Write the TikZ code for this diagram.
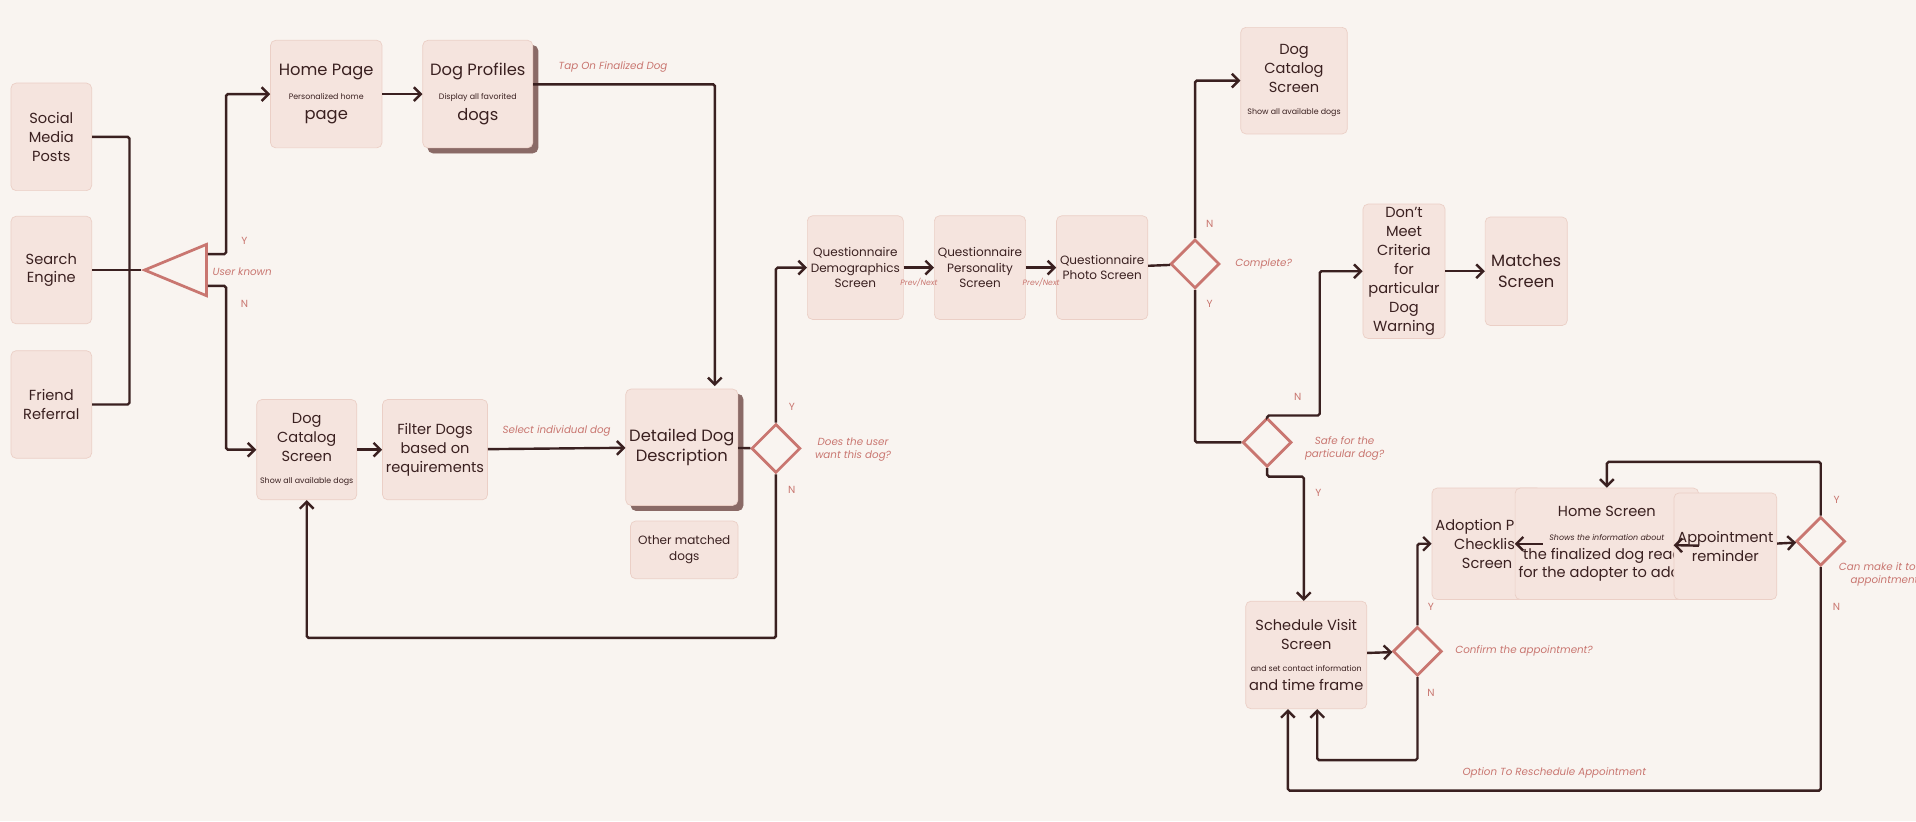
\documentclass[tikz,border=0pt]{standalone}
\usepackage{fontspec}
\setmainfont{Poppins}
\usetikzlibrary{arrows.meta,shapes.geometric,shadows,positioning}
\definecolor{paper}{HTML}{F9F4F0}
\definecolor{boxfill}{HTML}{F5E4DE}
\definecolor{boxline}{HTML}{EBCFC6}
\definecolor{ink}{HTML}{3A2020}
\definecolor{rose}{HTML}{C97670}
\definecolor{shade}{HTML}{8A6A66}

\tikzset{
  screen/.style={draw=boxline, fill=boxfill, rounded corners=3pt, align=center,
    font=\fontsize{8.5}{11}\selectfont, text=ink, inner sep=2pt},
  bigscreen/.style={screen, font=\fontsize{9.5}{12}\selectfont},
  shadowed/.style={bigscreen, copy shadow={shadow xshift=3pt, shadow yshift=-3pt,
    fill=shade, draw=shade}},
  choice/.style={diamond, draw=rose, line width=1.6pt, fill=paper, minimum size=1cm, inner sep=0pt},
  flow/.style={draw=ink, line width=1.4pt, rounded corners=1pt},
  go/.style={flow, -{Straight Barb[length=4pt,width=8pt,line width=1.4pt]}},
  tag/.style={font=\fontsize{6}{7.5}\selectfont\itshape, text=rose, align=center},
  yn/.style={font=\fontsize{6}{7}\selectfont, text=rose},
}

\begin{document}
\begin{tikzpicture}[x=0.025cm, y=-0.025cm]
\fill[paper] (0,0) rectangle (1568,672);
\useasboundingbox (0,0) rectangle (1568,672);

% sources
\node[screen, minimum width=1.65cm, minimum height=2.2cm] (social) at (42,112) {Social\\Media\\Posts};
\node[screen, minimum width=1.65cm, minimum height=2.2cm] (search) at (42,221) {Search\\Engine};
\node[screen, minimum width=1.65cm, minimum height=2.2cm] (friend) at (42,331) {Friend\\Referral};
\node[isosceles triangle, shape border rotate=180, draw=rose, line width=1.6pt, fill=paper,
  minimum height=0.5cm, minimum width=1.05cm, inner sep=0pt] (known) at (155,221) {};
\node[tag, anchor=west] (knowntag) at (169,222) {User known};
\node[yn] at (200,197) {Y};
\node[yn] at (200,249) {N};

% upper row
\node[bigscreen, minimum width=2.28cm, minimum height=2.2cm] (home) at (267,77) {Home Page\\[2pt]\fontsize{4.6}{6}\selectfont Personalized home\\page};
\node[shadowed, minimum width=2.25cm, minimum height=2.2cm] (profiles) at (391,77) {Dog Profiles\\[2pt]\fontsize{4.6}{6}\selectfont Display all favorited\\dogs};

% lower row
\node[screen, minimum width=1.93cm, minimum height=2.05cm] (catalog) at (251,368) {Dog\\Catalog\\Screen\\[2pt]\fontsize{4.6}{6}\selectfont Show all available dogs};
\node[screen, minimum width=1.9cm, minimum height=2.05cm] (filter) at (356,368) {Filter Dogs\\based on\\requirements};
\node[shadowed, minimum width=2.1cm, minimum height=2.38cm] (detail) at (558,366) {Detailed Dog\\Description};
\node[screen, minimum width=2.2cm, minimum height=1.18cm, font=\fontsize{7}{9}\selectfont] (others) at (560,450) {Other matched\\dogs};
\node[choice] (want) at (635,367) {};
\node[tag, anchor=west] at (662,368) {Does the user\\want this dog?};
\node[yn] at (648,333) {Y};
\node[yn] at (648,401) {N};

% questionnaire
\node[screen, minimum width=1.72cm, minimum height=2.12cm, font=\fontsize{7}{9}\selectfont] (demo) at (700,219) {Questionnaire\\Demographics\\Screen};
\node[screen, minimum width=1.72cm, minimum height=2.12cm, font=\fontsize{7}{9}\selectfont] (person) at (802,219) {Questionnaire\\Personality\\Screen};
\node[screen, minimum width=1.72cm, minimum height=2.12cm, font=\fontsize{7}{9}\selectfont] (photo) at (902,219) {Questionnaire\\Photo Screen};
\node[choice] (complete) at (978,216) {};
\node[tag, anchor=west] at (1006,216) {Complete?};
\node[yn] at (990,183) {N};
\node[yn] at (990,249) {Y};

\node[screen, minimum width=2.18cm, minimum height=2.18cm] (catalogb) at (1059,66) {Dog\\Catalog\\Screen\\[2pt]\fontsize{4.6}{6}\selectfont Show all available dogs};
\node[screen, minimum width=1.68cm, minimum height=2.72cm] (warn) at (1149,222) {Don't\\Meet\\Criteria\\for\\particular\\Dog\\Warning};
\node[bigscreen, minimum width=1.68cm, minimum height=2.22cm] (matches) at (1249,222) {Matches\\Screen};
\node[choice] (safe) at (1037,362) {};
\node[tag, anchor=west] at (1063,367) {Safe for the\\particular dog?};
\node[yn] at (1062,325) {N};
\node[yn] at (1079,403) {Y};

% visit
\node[screen, minimum width=1.95cm, minimum height=2.2cm] (visit) at (1069,536) {Schedule Visit\\Screen\\[2pt]\fontsize{4.6}{6}\selectfont and set contact information\\and time frame};
\node[choice] (confirm) at (1160,533) {};
\node[tag, anchor=west] at (1186,533) {Confirm the appointment?};
\node[yn] at (1171,497) {Y};
\node[yn] at (1171,567) {N};
\node[screen, minimum width=1.68cm, minimum height=2.28cm] (prep) at (1217,445) {Adoption Prep\\Checklist\\Screen};
\node[screen, minimum width=2.18cm, minimum height=2.28cm] (homescr) at (1315,445) {Home Screen\\[3pt]\fontsize{4.6}{6.5}\selectfont\itshape Shows the information about\\the finalized dog ready\\for the adopter to adopt};
\node[screen, minimum width=1.63cm, minimum height=2.18cm] (remind) at (1412,447) {Appointment\\reminder};
\node[choice] (make) at (1490,443) {};
\node[tag, anchor=west] at (1500,470) {Can make it to the\\appointment?};
\node[yn] at (1503,409) {Y};
\node[yn] at (1503,497) {N};

% connectors
\draw[flow] (social.east) -- (106,112) |- (friend.east);
\draw[flow] (search.east) -- (known.apex);
\draw[go] (known.east |- 0,208) -- (185,208) |- (home.west);
\draw[go] (known.east |- 0,234) -- (185,234) |- (catalog.west);
\draw[go] (home) -- (profiles);
\draw[go] (profiles.east |- 0,69) -| node[tag, pos=0.22, above=3pt] {Tap On Finalized Dog} (585,316);
\draw[go] (catalog) -- (filter);
\draw[go] (filter) -- node[tag, above=3pt] {Select individual dog} (detail);
\draw[flow] (detail) -- (want);
\draw[go] (want.north) |- (demo.west);
\draw[go] (want.south) |- (251,522) -- (catalog.south);
\draw[go] (demo) -- node[tag, below=2pt, font=\fontsize{4.5}{5}\selectfont\itshape] {Prev/Next} (person);
\draw[go] (person) -- node[tag, below=2pt, font=\fontsize{4.5}{5}\selectfont\itshape] {Prev/Next} (photo);
\draw[flow] (photo) -- (complete);
\draw[go] (complete.north) |- (catalogb.west);
\draw[flow] (complete.south) |- (safe.west);
\draw[go] (safe.north) -- (1037,340) -- (1080,340) |- (warn.west);
\draw[go] (warn) -- (matches);
\draw[go] (safe.south) -- (1037,390) -- (1067,390) -- (visit.north -| 1067,0);
\draw[go] (visit) -- (confirm);
\draw[go] (confirm.north) |- (prep.west);
\draw[go] (confirm.south) |- (1078,622) -- (visit.south -| 1078,0);
\draw[go] (prep) -- (homescr);
\draw[go] (homescr) -- (remind);
\draw[go] (remind) -- (make);
\draw[go] (make.north) |- (1315,378) -- (homescr.north);
\draw[go] (make.south) |- node[tag, pos=0.75, above=3pt] {Option To Reschedule Appointment} (1054,647) -- (visit.south -| 1054,0);
\end{tikzpicture}
\end{document}
